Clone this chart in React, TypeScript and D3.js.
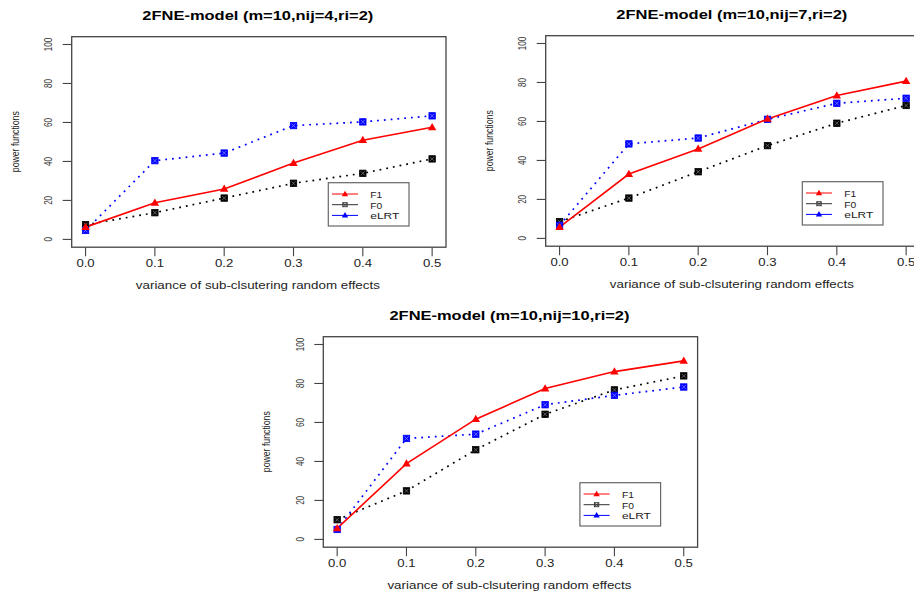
import React from "react";
import * as d3 from "d3";

const xValues = [0, 0.1, 0.2, 0.3, 0.4, 0.5];
const xTickLabels = ["0.0", "0.1", "0.2", "0.3", "0.4", "0.5"];
const yTicks = [0, 20, 40, 60, 80, 100];
const seriesNames = ["F1", "F0", "eLRT"];
const panelTitles = [
  "2FNE-model (m=10,nij=4,ri=2)",
  "2FNE-model (m=10,nij=7,ri=2)",
  "2FNE-model (m=10,nij=10,ri=2)",
];
const xTitle = "variance of sub-clsutering random effects";
const yTitle = "power functions";

const f1Nij4 = [6.3, 18.8, 25.9, 39.2, 50.9, 57.5];
const f0Nij4 = [7.5, 13.7, 21.2, 28.8, 33.9, 41.3];
const elrtNij4 = [4.6, 40.4, 44.3, 58.4, 60.3, 63.4];
const f1Nij7 = [5.8, 33.0, 45.9, 61.3, 73.3, 80.7];
const f0Nij7 = [8.6, 20.7, 34.2, 47.6, 59.1, 68.2];
const elrtNij7 = [6.7, 48.5, 51.5, 61.1, 69.3, 71.9];
const f1Nij10 = [5.7, 38.9, 61.7, 77.4, 86.1, 91.6];
const f0Nij10 = [10.1, 24.9, 46.0, 64.2, 76.7, 83.9];
const elrtNij10 = [5.1, 51.8, 54.0, 69.1, 73.9, 78.2];

const panelData = [
  [f1Nij4, f0Nij4, elrtNij4],
  [f1Nij7, f0Nij7, elrtNij7],
  [f1Nij10, f0Nij10, elrtNij10],
];

const panelOrigins = [
  { x: 71.7, y: 36.7 },
  { x: 545.7, y: 35.7 },
  { x: 323.3, y: 336.7 },
];
const BOX_W = 374.3;
const BOX_H = 210.5;

const colors = ["#ff0000", "#000000", "#0000ff"];
const FONT = "'Liberation Sans', Arial, Helvetica, sans-serif";

function Tri({ x, y, color, s = 4.2 }: { x: number; y: number; color: string; s?: number }) {
  const h = s * 1.732;
  return (
    <path
      d={`M${x},${y - h * 0.6} L${x + s},${y + h * 0.4} L${x - s},${y + h * 0.4} Z`}
      fill={color}
    />
  );
}

function BoxX({ x, y, color, inner, s = 3.2 }: { x: number; y: number; color: string; inner: string; s?: number }) {
  return (
    <g>
      <rect x={x - s} y={y - s} width={2 * s} height={2 * s} fill={color} stroke={color} strokeWidth={0.8} />
      <g stroke={inner} strokeWidth={0.8}>
        <line x1={x - s + 1.2} y1={y - s + 1.2} x2={x + s - 1.2} y2={y + s - 1.2} />
        <line x1={x - s + 1.2} y1={y + s - 1.2} x2={x + s - 1.2} y2={y - s + 1.2} />
      </g>
    </g>
  );
}

function Panel({ idx }: { idx: number }) {
  const o = panelOrigins[idx];
  const data = panelData[idx];
  const x = d3.scaleLinear().domain([-0.02, 0.52]).range([o.x, o.x + BOX_W]);
  const y = d3.scaleLinear().domain([-4, 104]).range([o.y + BOX_H, o.y]);
  const line = d3
    .line<number>()
    .x((_, i) => x(xValues[i]))
    .y((v) => y(v));
  const bottom = o.y + BOX_H;
  const lx = o.x + 256.6;
  const ly = o.y + 146;
  const cx = (o.x + o.x + BOX_W) / 2;
  return (
    <g fontFamily={FONT}>
      <text
        x={cx - 1}
        y={o.y - 17}
        textAnchor="middle"
        fontSize={13.5}
        fontWeight="bold"
        textLength={idx === 2 ? 240 : 231}
        lengthAdjust="spacingAndGlyphs"
      >
        {panelTitles[idx]}
      </text>
      <rect x={o.x} y={o.y} width={BOX_W} height={BOX_H} fill="none" stroke="#444" strokeWidth={1.3} />
      {yTicks.map((t) => (
        <g key={t}>
          <line x1={o.x - 9} x2={o.x} y1={y(t)} y2={y(t)} stroke="#444" strokeWidth={1.1} />
          <text
            transform={`translate(${o.x - 23.5},${y(t)}) rotate(-90)`}
            textAnchor="middle"
            dominantBaseline="central"
            fontSize={11.5}
            fill="#333"
            textLength={String(t).length * 4.45}
            lengthAdjust="spacingAndGlyphs"
          >
            {t}
          </text>
        </g>
      ))}
      {xValues.map((v, i) => (
        <g key={v}>
          <line x1={x(v)} x2={x(v)} y1={bottom} y2={bottom + 9} stroke="#444" strokeWidth={1.1} />
          <text
            x={x(v)}
            y={bottom + 20}
            textAnchor="middle"
            fontSize={10.5}
            fill="#222"
            textLength={18.3}
            lengthAdjust="spacingAndGlyphs"
          >
            {xTickLabels[i]}
          </text>
        </g>
      ))}
      <text
        x={cx - 1}
        y={bottom + 42}
        textAnchor="middle"
        fontSize={10.5}
        fill="#222"
        textLength={244}
        lengthAdjust="spacingAndGlyphs"
      >
        {xTitle}
      </text>
      <text
        transform={`translate(${o.x - 56.5},${o.y + 105}) rotate(-90)`}
        textAnchor="middle"
        dominantBaseline="central"
        fontSize={10}
        fill="#222"
        textLength={61}
        lengthAdjust="spacingAndGlyphs"
      >
        {yTitle}
      </text>
      <path d={line(data[1]) || ""} fill="none" stroke={colors[1]} strokeWidth={1.7} strokeDasharray="1.8 5" />
      <path d={line(data[2]) || ""} fill="none" stroke={colors[2]} strokeWidth={1.7} strokeDasharray="1.8 5" />
      <path d={line(data[0]) || ""} fill="none" stroke={colors[0]} strokeWidth={1.6} />
      {data[1].map((v, i) => (
        <BoxX key={"b" + i} x={x(xValues[i])} y={y(v)} color={colors[1]} inner="#777" />
      ))}
      {data[2].map((v, i) => (
        <BoxX key={"e" + i} x={x(xValues[i])} y={y(v)} color={colors[2]} inner="#8080ff" />
      ))}
      {data[0].map((v, i) => (
        <Tri key={"r" + i} x={x(xValues[i])} y={y(v)} color={colors[0]} />
      ))}
      <rect x={lx} y={ly} width={80.7} height={43.3} fill="white" stroke="#666" strokeWidth={1.2} />
      {seriesNames.map((n, i) => {
        const ry = ly + 11.3 + i * 10.7;
        return (
          <g key={n}>
            <line x1={lx + 3.7} x2={lx + 29.7} y1={ry} y2={ry} stroke={i === 1 ? "#333" : colors[i]} strokeWidth={1} />
            {i === 1 ? (
              <g stroke="#333" strokeWidth={0.9} fill="none">
                <rect x={lx + 14.5} y={ry - 2} width={4.4} height={4} />
                <line x1={lx + 14.5} y1={ry - 2} x2={lx + 18.9} y2={ry + 2} />
                <line x1={lx + 14.5} y1={ry + 2} x2={lx + 18.9} y2={ry - 2} />
              </g>
            ) : (
              <Tri x={lx + 16.7} y={ry} color={colors[i]} s={3.2} />
            )}
            <text
              x={lx + 42}
              y={ry + 0.5}
              dominantBaseline="central"
              fontSize={9.5}
              fill="#222"
              textLength={n.length === 2 ? 12 : 29}
              lengthAdjust="spacingAndGlyphs"
            >
              {n}
            </text>
          </g>
        );
      })}
    </g>
  );
}

export default function App() {
  return (
    <svg
      width={914}
      height={596}
      style={{ position: "absolute", left: 0, top: 0, background: "white" }}
    >
      <rect width={914} height={596} fill="white" />
      {[0, 1, 2].map((i) => (
        <Panel key={i} idx={i} />
      ))}
    </svg>
  );
}
